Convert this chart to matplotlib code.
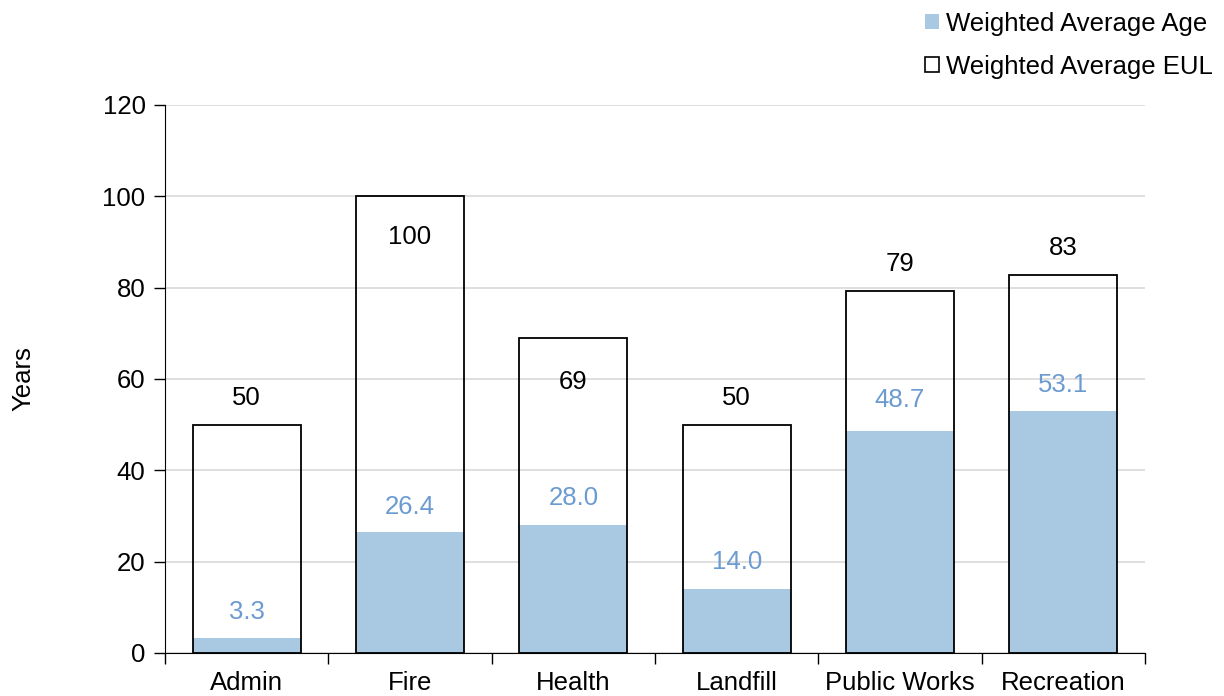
import matplotlib
matplotlib.use("Agg")
import matplotlib.pyplot as plt
import numpy as np
from matplotlib.patches import Patch

categories = ["Admin", "Fire", "Health", "Landfill", "Public Works", "Recreation"]
eul_values = [50, 100, 69, 50, 79.3, 82.8]
age_values = [3.3, 26.4, 28.0, 14.0, 48.7, 53.1]

# label heights for each bar's value text
eul_label_y = [55.8, 91.1, 59.3, 55.8, 85.2, 88.7]
age_label_y = [9.0, 32.0, 33.9, 19.9, 55.4, 58.7]

plt.rcParams["font.family"] = ["Liberation Sans", "DejaVu Sans"]
FS = 18.5

fig = plt.figure(figsize=(12.24, 6.96), dpi=100)
ax = fig.add_axes([165 / 1224, 1 - 653 / 696, 980 / 1224, 548 / 696])

x = np.arange(len(categories))
width = 0.66
age_color = "#A9C8E1"
age_text = "#6B9BD1"

ax.bar(x, age_values, width=width, color=age_color, edgecolor="none", zorder=2)
ax.bar(x, eul_values, width=width, facecolor="none", edgecolor="black",
       linewidth=1.3, zorder=3)

for xi, v, ly in zip(x, eul_values, eul_label_y):
    ax.text(xi, ly, f"{v:.0f}", ha="center", va="center", fontsize=FS, color="black", zorder=4)
for xi, v, ly in zip(x, age_values, age_label_y):
    ax.text(xi, ly, f"{v:.1f}", ha="center", va="center", fontsize=FS, color=age_text, zorder=4)

ax.set_xlim(-0.5, len(categories) - 0.5)
ax.set_ylim(0, 120)
ax.set_yticks(np.arange(0, 121, 20))
ax.yaxis.grid(True, color="#D9D9D9", linewidth=1.2, zorder=0)
ax.set_axisbelow(True)

for side in ["top", "right"]:
    ax.spines[side].set_visible(False)
ax.spines["left"].set_color("black")
ax.spines["bottom"].set_color("black")

ax.set_xticks(np.arange(-0.5, len(categories) + 0.5, 1.0))
ax.set_xticklabels([""] * (len(categories) + 1))
ax.set_xticks(x, minor=True)
ax.set_xticklabels(categories, minor=True, fontsize=FS)
ax.tick_params(axis="x", which="major", direction="out", length=8, width=1)
ax.tick_params(axis="x", which="minor", length=0, pad=13)
ax.tick_params(axis="y", direction="out", length=8, width=1, labelsize=FS, pad=6)

ax.set_ylabel("Years", fontsize=FS, labelpad=48)

handles = [Patch(facecolor=age_color, edgecolor="none", label="Weighted Average Age"),
           Patch(facecolor="white", edgecolor="black", linewidth=1.2, label="Weighted Average EUL")]
fig.legend(handles=handles, loc="upper right", bbox_to_anchor=(1.0, 1.0), frameon=False,
           fontsize=FS, handlelength=0.55, handleheight=0.55, handletextpad=0.25,
           labelspacing=0.75, borderaxespad=0.05)

fig.savefig("out.png", dpi=100)
